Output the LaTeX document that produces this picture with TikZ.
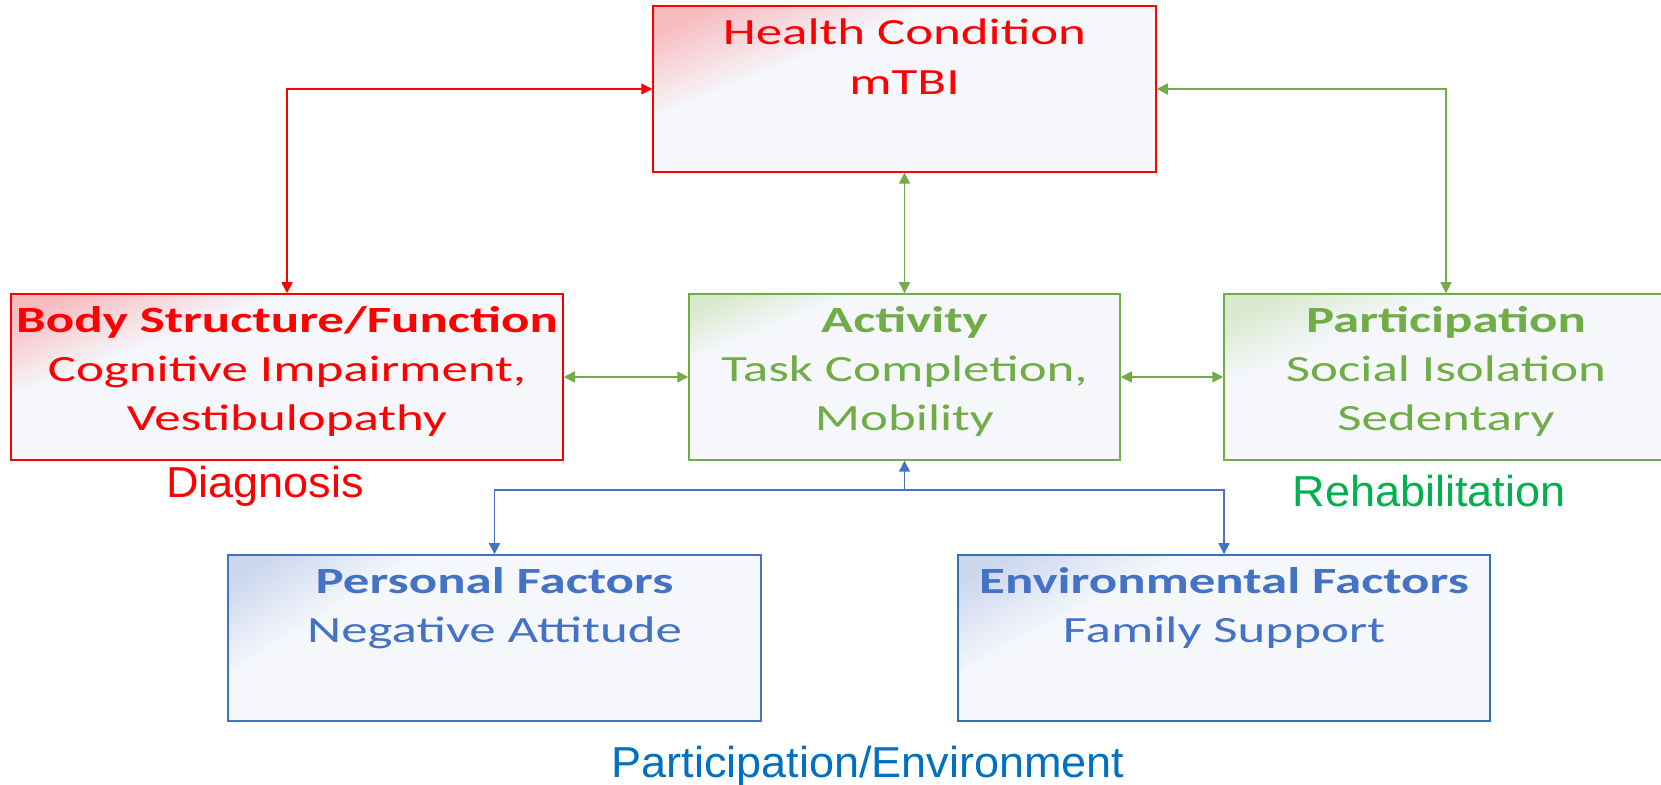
\documentclass[tikz,border=0pt]{standalone}
\usepackage{fontspec}
\setmainfont{Carlito}[FakeStretch=1.43]
\newfontfamily\labelfont{Liberation Sans}[FakeStretch=1.04]
\usetikzlibrary{arrows.meta}
\definecolor{hred}{HTML}{FF0000}
\definecolor{ogreen}{HTML}{70AD47}
\definecolor{oblue}{HTML}{4472C4}
\definecolor{eblue}{HTML}{2E75B6}
\definecolor{rehab}{HTML}{00B050}
\definecolor{pecol}{HTML}{0070C0}
\definecolor{boxbg}{HTML}{F5F7FB}
\definecolor{redtint}{HTML}{F7BCC0}
\definecolor{greentint}{HTML}{D8E9CD}
\definecolor{bluetint}{HTML}{CCD7EE}
\tikzset{
  tintc/.store in=\tintc, ta/.store in=\tinta, tb/.store in=\tintb,
  box/.style={draw=#1, line width=1.5pt, fill=boxbg, inner sep=0pt, minimum height=166pt,
    path picture={%
      \foreach \i in {30,...,1}{%
        \pgfmathsetmacro\tfrac{\i/30}%
        \pgfmathsetmacro\pp{min(100,100*(1-\tfrac)/0.75)}%
        \pgfmathsetmacro\dxa{\tfrac*\tinta}%
        \pgfmathsetmacro\dyb{\tfrac*\tintb}%
        \fill[\tintc!\pp!boxbg] (path picture bounding box.north west)
          -- ([xshift=\dxa pt]path picture bounding box.north west)
          -- ([yshift=-\dyb pt]path picture bounding box.north west) -- cycle;}}},
  txt/.style={anchor=base, inner sep=0pt, font=\fontsize{37}{49}\selectfont},
  lbl/.style={anchor=base, inner sep=0pt, font=\labelfont\fontsize{43.3}{50}\selectfont},
  conn/.style={line width=1.5pt, {Triangle[length=11pt,width=11pt]}-{Triangle[length=11pt,width=11pt]}},
  oneway/.style={line width=1.5pt, -{Triangle[length=11pt,width=11pt]}},
}
\begin{document}
\begin{tikzpicture}[x=1pt,y=1pt]
\useasboundingbox (0,0) rectangle (1661,784);
\clip (0,0) rectangle (1661,784);
% boxes
\node[box=hred, tintc=redtint, ta=290, tb=115, minimum width=503pt] (health) at (904.5,695) {};
\node[box=hred, tintc=redtint, ta=280, tb=105, minimum width=552pt] (body) at (287,407) {};
\node[box=ogreen, tintc=greentint, ta=170, tb=70, minimum width=431pt] (act) at (904.5,407) {};
\node[box=ogreen, tintc=greentint, ta=230, tb=95, minimum width=444pt] (part) at (1446,407) {};
\node[box=oblue, tintc=bluetint, ta=200, tb=125, minimum width=533pt] (pers) at (494.5,146) {};
\node[box=eblue, tintc=bluetint, ta=230, tb=125, minimum width=532pt] (env) at (1224,146) {};
% texts
\node[txt, text=hred] (h1) at (904.5,739) {Health Condition};
\node[txt, text=hred] (h2) at (904.5,689) {mTBI};
\node[txt, text=hred] (b1) at (287,451) {\bfseries Body Structure/Function};
\node[txt, text=hred] (b2) at (287,402) {Cognitive Impairment,};
\node[txt, text=hred] (b3) at (287,353) {Vestibulopathy};
\node[txt, text=ogreen] (a1) at (904.5,451) {\bfseries Activity};
\node[txt, text=ogreen] (a2) at (904.5,402) {Task Completion,};
\node[txt, text=ogreen] (a3) at (904.5,353) {Mobility};
\node[txt, text=ogreen] (p1) at (1446,451) {\bfseries Participation};
\node[txt, text=ogreen] (p2) at (1446,402) {Social Isolation};
\node[txt, text=ogreen] (p3) at (1446,353) {Sedentary};
\node[txt, text=oblue] (f1) at (494.5,190) {\bfseries Personal Factors};
\node[txt, text=oblue] (f2) at (494.5,141) {Negative Attitude};
\node[txt, text=oblue] (e1) at (1224,190) {\bfseries Environmental Factors};
\node[txt, text=oblue] (e2) at (1224,141) {Family Support};
% labels
\node[lbl, text=hred] (diag) at (265,286) {Diagnosis};
\node[lbl, text=rehab] (rehabl) at (1429,277) {Rehabilitation};
\node[lbl, text=pecol] (pel) at (868,7) {Participation/Environment};
% connectors
\draw[conn, draw=hred] (health.west) -| (body.north);
\draw[conn, draw=ogreen] (health.south) -- (act.north);
\draw[conn, draw=ogreen] (health.east) -| (part.north);
\draw[conn, draw=ogreen] (body.east) -- (act.west);
\draw[conn, draw=ogreen] (act.east) -- (part.west);
\coordinate (jn) at (904.5,294);
\draw[oneway, draw=oblue] (jn) -- (act.south);
\draw[oneway, draw=oblue] (jn) -| (pers.north);
\draw[oneway, draw=oblue] (jn) -| (env.north);
\end{tikzpicture}
\end{document}
